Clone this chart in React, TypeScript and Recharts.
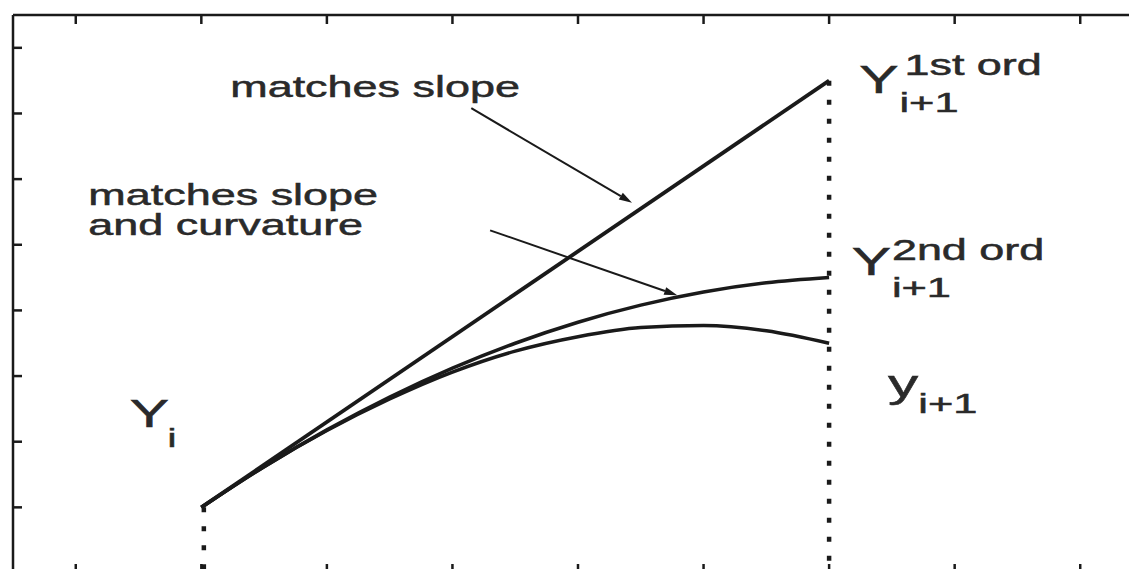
import { LineChart, Line, XAxis, YAxis, ReferenceLine, ReferenceDot } from 'recharts';

// axis ticks
const xTicks = [0, 1, 2, 3, 4, 5, 6, 7, 8];
const yTicks = [0, 1, 2, 3, 4, 5, 6, 7, 8];

// step positions
const curveX = [1, 1.5, 2, 2.5, 3, 3.5, 4, 4.5, 5, 5.5, 6];
const secondOrderY = [1.0, 1.62, 2.18, 2.68, 3.12, 3.5, 3.82, 4.08, 4.28, 4.42, 4.5];
const exactY = [1.0, 1.62, 2.17, 2.65, 3.06, 3.38, 3.6, 3.74, 3.77, 3.69, 3.5];
const firstOrderX = [1, 6];
const firstOrderY = [1, 7.5];

const firstOrder = firstOrderX.map((x, i) => ({ x, y: firstOrderY[i] }));
const secondOrder = curveX.map((x, i) => ({ x, y: secondOrderY[i] }));
const exact = curveX.map((x, i) => ({ x, y: exactY[i] }));

// dotted guides under Y_i and Y_{i+1}
const guides = [
  [{ x: 1.02, y: 1 }, { x: 1.02, y: 0 }],
  [{ x: 6, y: 7.5 }, { x: 6, y: 0 }],
];

// annotation arrows: [from, tip]
const arrows = [
  [{ x: 3.15, y: 7.08 }, { x: 4.43, y: 5.64 }],
  [{ x: 3.3, y: 5.22 }, { x: 4.79, y: 4.23 }],
];

// text pieces (data coords of baseline-left)
const labels = [
  { x: 1.23, y: 7.25, text: 'matches slope', size: 29 },
  { x: 0.1, y: 5.61, text: 'matches slope', size: 29 },
  { x: 0.1, y: 5.15, text: 'and curvature', size: 29 },
  { x: 0.43, y: 2.22, text: 'Y', size: 38 },
  { x: 0.73, y: 1.92, text: 'i', size: 26 },
  { x: 6.24, y: 7.31, text: 'Y', size: 38 },
  { x: 6.6, y: 7.59, text: '1st ord', size: 29 },
  { x: 6.56, y: 7.02, text: 'i+1', size: 28 },
  { x: 6.18, y: 4.54, text: 'Y', size: 38 },
  { x: 6.5, y: 4.77, text: '2nd ord', size: 29 },
  { x: 6.5, y: 4.2, text: 'i+1', size: 28 },
  { x: 6.47, y: 2.68, text: 'y', size: 39 },
  { x: 6.71, y: 2.44, text: 'i+1', size: 28 },
];

const INK = '#1a1a1a';
const TEXT = '#2a2a2a';
const STRETCH = 1.55; // the source image is stretched sideways
const FONT = '"Liberation Sans", Arial, Helvetica, sans-serif';

const W = 1150;
const H = 580;

const axisLine = { stroke: INK, strokeWidth: 2.5 };
const tickLine = { stroke: INK, strokeWidth: 2.5 };
const blank = () => '';

function Arrow(p: any) {
  const { x1, y1, x2, y2 } = p;
  const dx = x2 - x1, dy = y2 - y1;
  const len = Math.hypot(dx, dy);
  const ux = dx / len, uy = dy / len;
  const hl = 13, hw = 4;
  const bx = x2 - ux * hl, by = y2 - uy * hl;
  const pts = `${x2},${y2} ${bx - uy * hw},${by + ux * hw} ${bx + uy * hw},${by - ux * hw}`;
  return (
    <g>
      <line x1={x1} y1={y1} x2={bx} y2={by} stroke={INK} strokeWidth={2} />
      <polygon points={pts} fill={INK} />
    </g>
  );
}

export default function App() {
  return (
    <div style={{ width: 1129, height: 561, overflow: 'hidden', background: '#fff' }}>
      <div style={{ width: W, height: H }}>
        <LineChart width={W} height={H} margin={{ top: 7, right: 14, bottom: 15, left: 5 }}>
          <XAxis xAxisId={0} type="number" dataKey="x" domain={[-0.5, 8.5]} ticks={xTicks} interval={0}
            orientation="bottom" mirror height={1} tickSize={9} tickFormatter={blank}
            axisLine={axisLine} tickLine={tickLine} allowDataOverflow />
          <XAxis xAxisId="top" type="number" dataKey="x" domain={[-0.5, 8.5]} ticks={xTicks} interval={0}
            orientation="top" mirror height={1} tickSize={9} tickFormatter={blank}
            axisLine={axisLine} tickLine={tickLine} allowDataOverflow />
          <YAxis yAxisId={0} type="number" domain={[0, 8.5]} ticks={yTicks} interval={0}
            orientation="left" mirror width={1} tickSize={9} tickFormatter={blank}
            axisLine={axisLine} tickLine={tickLine} allowDataOverflow />
          <YAxis yAxisId="right" type="number" domain={[0, 8.5]} ticks={yTicks} interval={0}
            orientation="right" width={1} tickSize={-10} tickFormatter={blank}
            axisLine={axisLine} tickLine={tickLine} allowDataOverflow />

          {guides.map((seg, i) => (
            <ReferenceLine key={`g${i}`} segment={seg} stroke={INK} strokeWidth={4.5}
              strokeDasharray="5 14" />
          ))}

          <Line data={exact} dataKey="y" type="monotone" stroke={INK} strokeWidth={3.5}
            dot={false} isAnimationActive={false} />
          <Line data={secondOrder} dataKey="y" type="monotone" stroke={INK} strokeWidth={3.5}
            dot={false} isAnimationActive={false} />
          <Line data={firstOrder} dataKey="y" type="linear" stroke={INK} strokeWidth={3.8}
            dot={false} isAnimationActive={false} />

          {arrows.map((seg, i) => (
            <ReferenceLine key={`a${i}`} segment={seg} shape={Arrow} />
          ))}

          {labels.map((l, i) => (
            <ReferenceDot key={`l${i}`} x={l.x} y={l.y} r={1}
              shape={(p: any) => (
                <text transform={`translate(${p.cx},${p.cy}) scale(${STRETCH},1)`}
                  fontSize={l.size} fontFamily={FONT} fill={TEXT}
                  stroke={TEXT} strokeWidth={0.5}>{l.text}</text>
              )} />
          ))}
        </LineChart>
      </div>
    </div>
  );
}
